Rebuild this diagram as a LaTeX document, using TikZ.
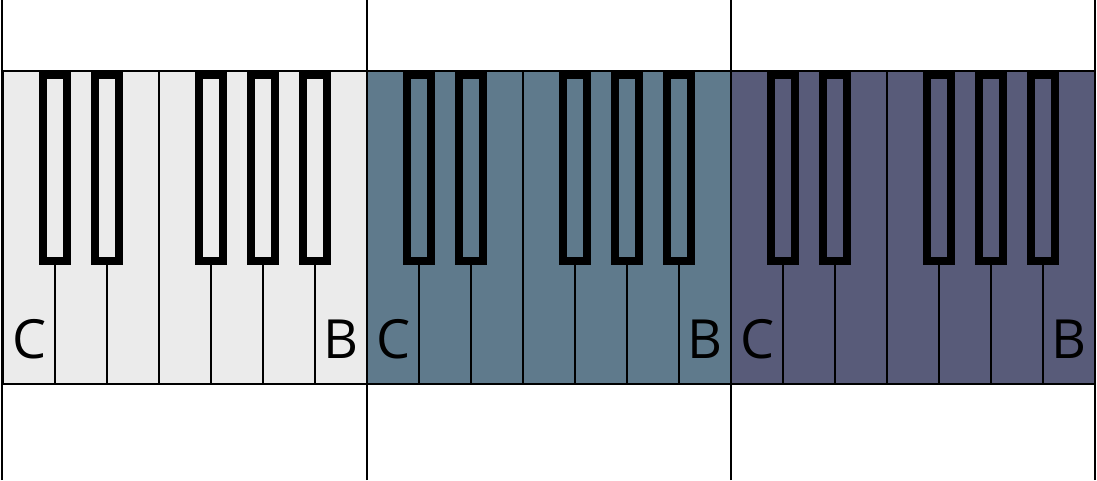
\documentclass[tikz,border=0pt]{standalone}
\usepackage{fontspec}
\setmainfont{Open Sans}
\definecolor{oct1}{HTML}{EBEBEB}
\definecolor{oct2}{HTML}{5F7A8C}
\definecolor{oct3}{HTML}{585B79}
\tikzset{whitekey/.style={draw=black,line width=1.5pt},
 blackkey/.style={draw=black,line width=8pt},
 sep/.style={draw=black,line width=2.5pt},
 lbl/.style={font=\fontsize{54}{54}\selectfont,inner sep=0pt}}
\begin{document}
\begin{tikzpicture}[x=1pt,y=1pt]
\useasboundingbox (0,0) rectangle (1097,480);
\foreach \k/\c in {0/oct1,1/oct2,2/oct3}{
  \pgfmathsetmacro{\ox}{3+364*\k}
  \fill[\c] (\ox,96) rectangle ++(364,313);
  \foreach \i in {0,...,6}{
    \draw[whitekey] ({\ox+52*\i},96) rectangle ++(52,313);
  }
  \foreach \i in {1,2,4,5,6}{
    \draw[blackkey,fill=\c] ({\ox+52*\i-12},219) rectangle ({\ox+52*\i+12},405);
  }
  \node[lbl,anchor=base west] (c\k) at ({\ox+9},122) {C};
  \node[lbl,anchor=base east] (b\k) at ({\ox+356},122) {B};
}
\foreach \x [count=\n] in {2,367,731,1095}{
  \draw[sep] (\x,0) -- (\x,480);
}
\end{tikzpicture}
\end{document}
